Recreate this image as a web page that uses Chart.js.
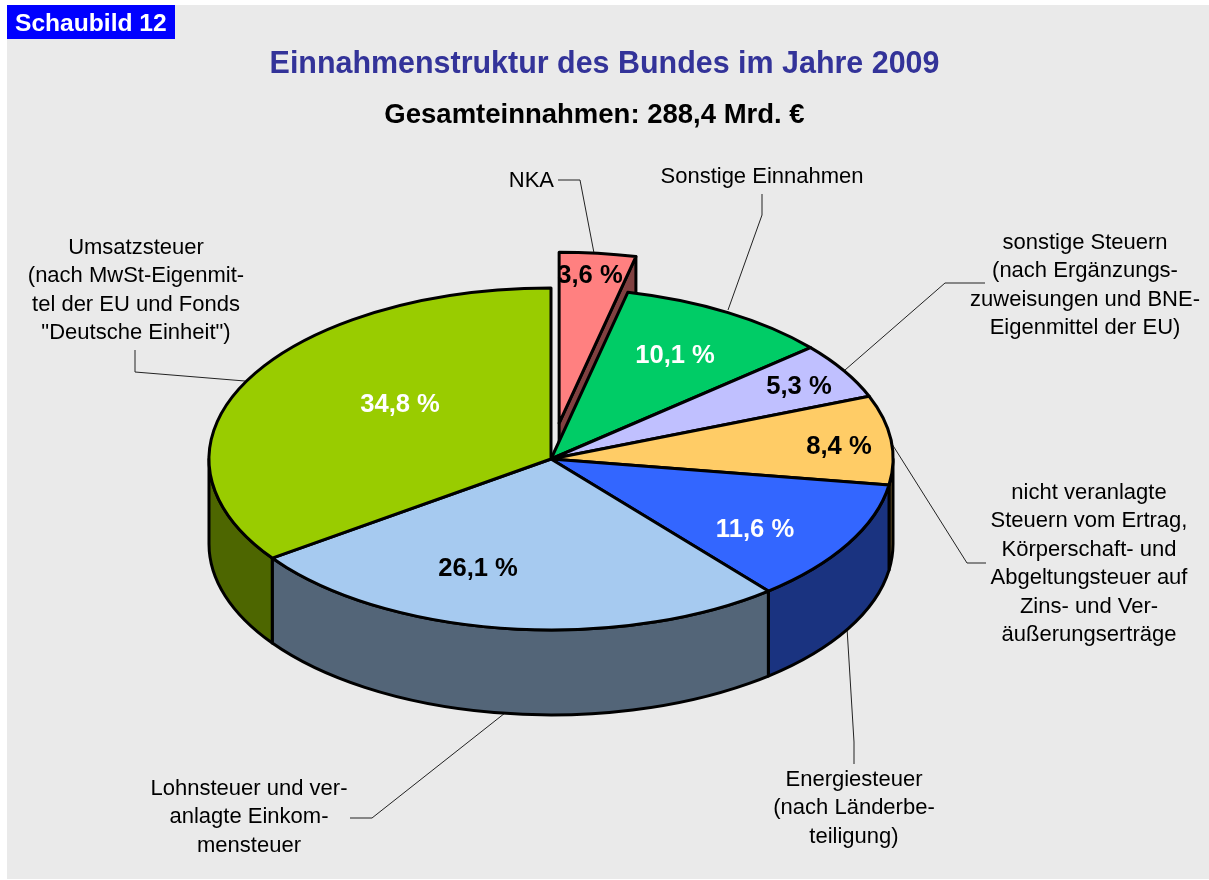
<!DOCTYPE html>
<html lang="de">
<head>
<meta charset="utf-8">
<title>Einnahmenstruktur des Bundes im Jahre 2009</title>
<script src="https://cdn.jsdelivr.net/npm/chart.js@4"></script>
<style>html,body{margin:0;padding:0;background:#fff}canvas{display:block}</style>
</head>
<body>
<canvas id="c" width="1209" height="880"></canvas>
<script>
// ---- data ----
const categories = ["NKA","Sonstige Einnahmen","sonstige Steuern","nicht veranlagte Steuern","Energiesteuer","Lohnsteuer und veranlagte Einkommensteuer","Umsatzsteuer"];
const shares = [3.6,10.1,5.3,8.4,11.6,26.1,34.8];
const badgeText = "Schaubild 12";
const titleText = "Einnahmenstruktur des Bundes im Jahre 2009";
const subtitleText = "Gesamteinnahmen: 288,4 Mrd. €";
const calloutLines = [
  ["NKA"],
  ["Sonstige Einnahmen"],
  ["sonstige Steuern","(nach Ergänzungs-","zuweisungen und BNE-","Eigenmittel der EU)"],
  ["nicht veranlagte","Steuern vom Ertrag,","Körperschaft- und","Abgeltungsteuer auf","Zins- und Ver-","äußerungserträge"],
  ["Energiesteuer","(nach Länderbe-","teiligung)"],
  ["Lohnsteuer und ver-","anlagte Einkom-","mensteuer"],
  ["Umsatzsteuer","(nach MwSt-Eigenmit-","tel der EU und Fonds","\"Deutsche Einheit\")"]
];

// ---- styling and layout ----
const topColors  = ["#FF8080","#00CC66","#C0C0FF","#FFCC66","#3366FF","#A6CAF0","#99CC00"];
const sideColors = ["#804040","#006633","#606080","#806633","#1A3380","#536578","#4D6600"];
const labelInk   = ["#000","#fff","#000","#000","#fff","#000","#fff"];
const pullOut = [72,0,0,0,0,0,0];
const TILT = 0.5, DEPTH = 85, RADIUS = 342, CENTER_Y = 459;
const FONT = '"Liberation Sans", Arial, sans-serif';
const valuePos = [[590,276],[675,356],[799,387],[839,447],[755,530],[478,569],[400,405]];
const calloutPos = [
  {x:554,y:181,align:"right"},{x:762,y:177},{x:1085,y:243},{x:1089,y:493},
  {x:854,y:780},{x:249,y:789},{x:136,y:248}
];
const leaders = [
  [[558,180],[580,180],[594,253]],
  [[762,194],[762,215],[728,310]],
  [[985,283],[945,283],[845,370]],
  [[986,563],[967,563],[892,444]],
  [[847,628],[854,742],[854,764]],
  [[505,713],[372,818],[350,818]],
  [[135,350],[135,372],[245,381]]
];

function drawLabels(ctx){
  ctx.textBaseline="middle";
  ctx.font='bold 24.6px '+FONT; ctx.fillStyle="#fff"; ctx.textAlign="left";
  ctx.fillText(badgeText,15,24);
  ctx.font='bold 30.45px '+FONT; ctx.fillStyle="#333399"; ctx.textAlign="center";
  ctx.fillText(titleText,604.5,65);
  ctx.font='bold 27.5px '+FONT; ctx.fillStyle="#000";
  ctx.fillText(subtitleText,594.5,115);
  ctx.font='22px '+FONT; ctx.fillStyle="#000";
  calloutLines.forEach((lines,i)=>{
    const p=calloutPos[i];
    ctx.textAlign=p.align||"center";
    lines.forEach((t,k)=>ctx.fillText(t,p.x,p.y+k*28.4));
  });
}

const pie3d = {
  id:"pie3d",
  beforeDraw(chart){
    const ctx=chart.ctx;
    ctx.save();
    ctx.fillStyle="#fff"; ctx.fillRect(0,0,1209,880);
    ctx.fillStyle="#EAEAEA"; ctx.fillRect(7,5,1202,874);
    ctx.fillStyle="#0000FF"; ctx.fillRect(7,5,168,34);
    ctx.restore();
  },
  beforeDatasetDraw(chart){
    const ctx=chart.ctx, arcs=chart.getDatasetMeta(0).data;
    const midY=arcs[0].y;

    ctx.save();
    // leader lines lie under the pie
    ctx.strokeStyle="#222"; ctx.lineWidth=1;
    leaders.forEach(l=>{ctx.beginPath();l.forEach((q,i)=>i?ctx.lineTo(q[0],q[1]):ctx.moveTo(q[0],q[1]));ctx.stroke();});

    ctx.strokeStyle="#000"; ctx.lineWidth=3; ctx.lineJoin="round"; ctx.lineCap="round";

    const hub=(a,i)=>{
      const h=(a.startAngle+a.endAngle)/2, o=pullOut[i];
      return [a.x+Math.cos(h)*o, CENTER_Y+Math.sin(h)*o*TILT, Math.cos(h)*o, Math.sin(h)*o];
    };
    const fillTop=(a,i)=>{
      const c=hub(a,i), r=a.outerRadius;
      ctx.save();
      ctx.translate(0,CENTER_Y); ctx.scale(1,TILT); ctx.translate(c[2],c[3]-midY);
      a.draw(ctx);
      ctx.restore();
      ctx.beginPath(); ctx.moveTo(c[0],c[1]);
      ctx.ellipse(c[0],c[1],r,r*TILT,0,a.startAngle,a.endAngle); ctx.closePath();
      ctx.stroke();
    };

    const pulled=[],seated=[];
    arcs.forEach((a,i)=>(pullOut[i]>0?pulled:seated).push([a,i]));

    // pulled-out slices: the radial wall facing the viewer, then the top
    pulled.forEach(([a,i])=>{
      const c=hub(a,i), r=a.outerRadius;
      const ex=c[0]+Math.cos(a.endAngle)*r, ey=c[1]+Math.sin(a.endAngle)*r*TILT;
      ctx.fillStyle=sideColors[i];
      ctx.beginPath(); ctx.moveTo(c[0],c[1]); ctx.lineTo(ex,ey);
      ctx.lineTo(ex,ey+DEPTH); ctx.lineTo(c[0],c[1]+DEPTH); ctx.closePath();
      ctx.fill(); ctx.stroke();
      fillTop(a,i);
    });

    // rim of the seated slices, front half only
    seated.forEach(([a,i])=>{
      const s=Math.max(a.startAngle,0), e=Math.min(a.endAngle,Math.PI);
      if(s>=e) return;
      const r=a.outerRadius, cx=a.x, cy=CENTER_Y;
      ctx.fillStyle=sideColors[i];
      ctx.beginPath();
      ctx.ellipse(cx,cy,r,r*TILT,0,s,e);
      ctx.ellipse(cx,cy+DEPTH,r,r*TILT,0,e,s,true);
      ctx.closePath(); ctx.fill(); ctx.stroke();
    });
    seated.forEach(([a,i])=>fillTop(a,i));

    // values on the slices
    ctx.font='bold 25.6px '+FONT; ctx.textAlign="center"; ctx.textBaseline="middle";
    shares.forEach((v,i)=>{
      ctx.fillStyle=labelInk[i];
      ctx.fillText(v.toFixed(1).replace(".",",")+" %",valuePos[i][0],valuePos[i][1]);
    });
    drawLabels(ctx);
    ctx.restore();
    return false;
  }
};

new Chart(document.getElementById("c"),{
  type:"pie",
  data:{labels:categories,datasets:[{
    data:shares,backgroundColor:topColors,borderWidth:0
  }]},
  options:{
    responsive:false,animation:false,radius:RADIUS,
    layout:{padding:{left:0,right:107,top:0,bottom:0}},
    events:[],
    plugins:{legend:{display:false},tooltip:{enabled:false},title:{display:false}}
  },
  plugins:[pie3d]
});
</script>
</body>
</html>
